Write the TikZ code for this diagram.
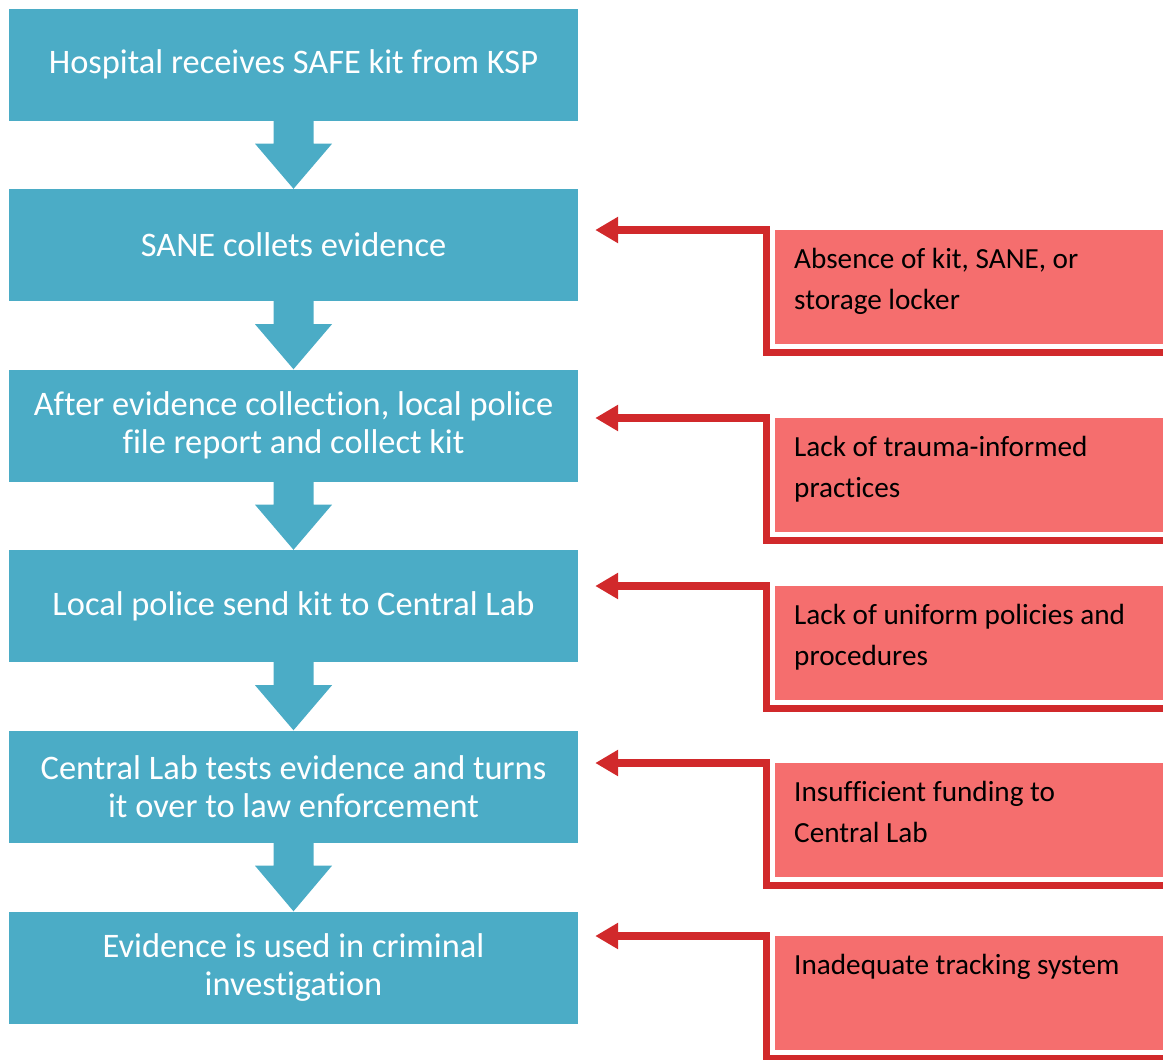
\documentclass[tikz,border=0pt]{standalone}
\usepackage{fontspec}
\setmainfont{Carlito}[Ligatures=NoCommon]
\usetikzlibrary{arrows.meta,calc}
\definecolor{tealbox}{HTML}{4BACC6}
\definecolor{redfill}{HTML}{F56E6E}
\definecolor{redline}{HTML}{D1292B}
\begin{document}
\begin{tikzpicture}[x=1pt,y=-1pt,
  stepbox/.style={fill=tealbox, minimum width=569pt, minimum height=112pt, inner sep=0pt,
    text=white, align=center, font=\fontsize{34.4}{37.5}\selectfont},
  issuebox/.style={fill=redfill, minimum width=388pt, minimum height=114pt, inner sep=0pt, anchor=north west},
  issuetext/.style={anchor=north west, inner sep=0pt, align=left, text=black,
    font=\fontsize{29.2}{41}\selectfont},
  issueline/.style={draw=redline, line width=7.5pt, -{Triangle[length=23pt,width=25pt]}},
  flowarrow/.style={fill=tealbox}]
\useasboundingbox (0,0) rectangle (1163,1060);

% process steps
\node[stepbox] (s1) at (293.5,64.5) {Hospital receives SAFE kit from KSP};
\node[stepbox] (s2) at (293.5,245) {SANE collets evidence};
\node[stepbox] (s3) at (293.5,425.5) {After evidence collection, local police\\file report and collect kit};
\node[stepbox] (s4) at (293.5,606) {Local police send kit to Central Lab};
\node[stepbox] (s5) at (293.5,786.5) {Central Lab tests evidence and turns\\it over to law enforcement};
\node[stepbox] (s6) at (293.5,967.5) {Evidence is used in criminal\\investigation};

% block arrows
\foreach \a/\b in {s1/s2,s2/s3,s3/s4,s4/s5,s5/s6}{
  \fill[flowarrow] ($(\a.south)+(-20,0)$) -- ++(0,23) -- ++(-18.5,0) -- (\b.north)
    -- ($(\a.south)+(38.5,23)$) -- ++(-18.5,0) -- ++(0,-23) -- cycle;
}

% issues
\node[issuebox] (r1) at (775,230) {};
\node[issuebox] (r2) at (775,418) {};
\node[issuebox] (r3) at (775,586) {};
\node[issuebox] (r4) at (775,763) {};
\node[issuebox] (r5) at (775,936) {};

\node[issuetext] (t1) at ($(r1.north west)+(19,18)$) {Absence of kit, SANE, or\\storage locker};
\node[issuetext] (t2) at ($(r2.north west)+(19,18)$) {Lack of trauma-informed\\practices};
\node[issuetext] (t3) at ($(r3.north west)+(19,18)$) {Lack of uniform policies and\\procedures};
\node[issuetext] (t4) at ($(r4.north west)+(19,18)$) {Insufficient funding to\\Central Lab};
\node[issuetext] (t5) at ($(r5.north west)+(19,18)$) {Inadequate tracking system};

% connectors
\foreach \r/\s in {r1/s2,r2/s3,r3/s4,r4/s5,r5/s6}{
  \draw[issueline] ($(\r.south east)+(0,8)$) -| ($(\r.north west)+(-8.5,0)$)
    -- ($(\s.east |- \r.north)+(17,0)$);
}
\end{tikzpicture}
\end{document}
